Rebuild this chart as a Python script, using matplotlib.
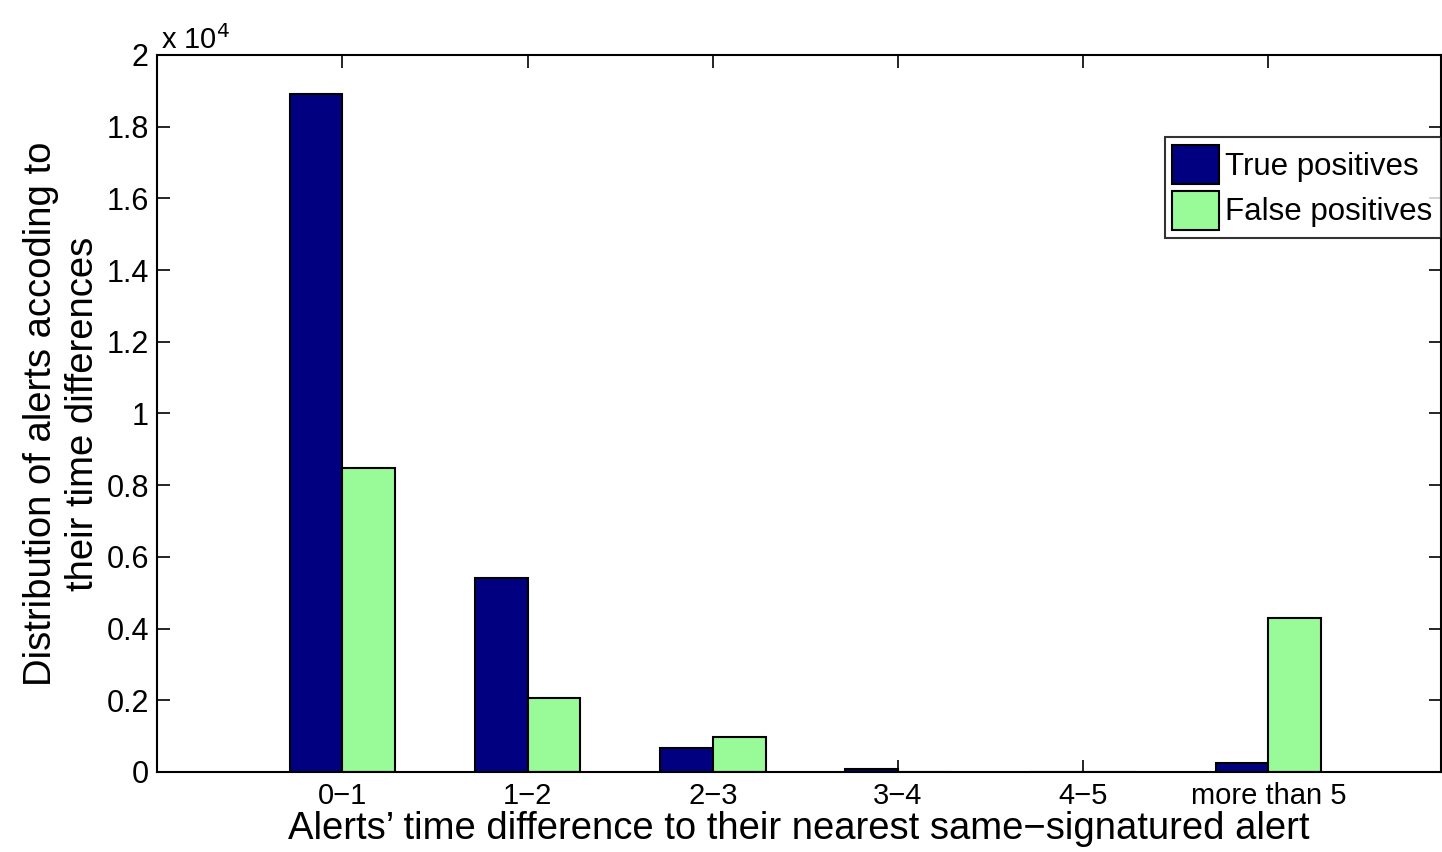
import numpy as np
import matplotlib
matplotlib.use('Agg')
import matplotlib.pyplot as plt

plt.rcParams['font.family'] = ['Liberation Sans', 'DejaVu Sans']

categories = ['0\u22121', '1\u22122', '2\u22123', '3\u22124', '4\u22125', 'more than 5']
true_pos = [18900, 5420, 670, 80, 0, 250]
false_pos = [8470, 2060, 980, 0, 0, 4300]

navy = '#000080'
green = '#98fb98'

fig = plt.figure(figsize=(14.42, 8.52), dpi=100)
ax = fig.add_axes([0.109, 0.094, 0.89, 0.8415])

x = np.arange(1, len(categories) + 1)
w = 0.285
ax.bar(x - w/2, true_pos, w, color=navy, edgecolor='black', lw=1.5, label='True positives')
ax.bar(x + w/2, false_pos, w, color=green, edgecolor='black', lw=1.5, label='False positives')

ax.set_xlim(0, 6.93)
ax.set_ylim(0, 20000)
ax.set_xticks(x)
ax.set_xticklabels(categories, fontsize=21)
yt = np.arange(0, 20001, 2000)
ax.set_yticks(yt)
ax.set_yticklabels(['%g' % (v / 1e4) for v in yt], fontsize=22)
ax.tick_params(direction='in', length=9, width=1.2, top=True, right=True, pad=6)
ax.tick_params(axis='x', pad=7)
for s in ax.spines.values():
    s.set_linewidth(1.5)

ax.text(0.003, 1.0, 'x 10$^4$', transform=ax.transAxes, fontsize=21, va='bottom', ha='left')

ax.set_xlabel('Alerts\u2019 time difference to their nearest same\u2212signatured alert',
              fontsize=27.5, labelpad=1)
ax.set_ylabel('Distribution of alerts accoding to\ntheir time differences', fontsize=27.5,
              labelpad=4, linespacing=1.2)

leg = ax.legend(loc='upper right', bbox_to_anchor=(1.0, 0.885), fontsize=22.5, fancybox=False,
                edgecolor='black', handlelength=1.5, handleheight=1.55, handletextpad=0.2,
                borderaxespad=0.0, labelspacing=0.2, borderpad=0.25)
leg.get_frame().set_linewidth(1.5)

fig.savefig('out.png', dpi=100)
